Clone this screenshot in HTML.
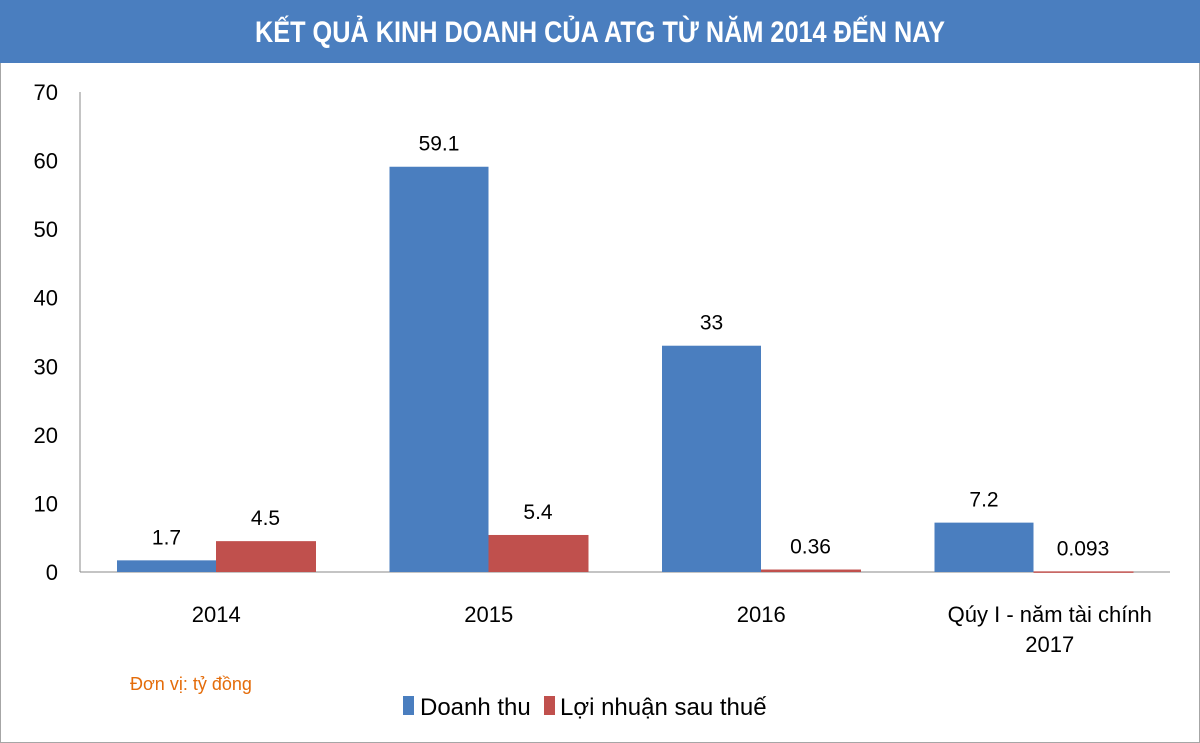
<!DOCTYPE html>
<html><head><meta charset="utf-8"><style>
body{margin:0;background:#fff}
svg{display:block;font-family:"Liberation Sans Narrow","Liberation Sans",sans-serif}
</style></head><body>
<svg id="chart" width="1200" height="743">
<rect x="0.5" y="0.5" width="1199" height="742" fill="#fff" stroke="#a6a6a6"/>
<rect x="0" y="0" width="1200" height="63" fill="#4a7ebf"/>
<text x="600" y="42" text-anchor="middle" fill="#fff" font-size="30" font-weight="bold" textLength="690" lengthAdjust="spacingAndGlyphs">KẾT QUẢ KINH DOANH CỦA ATG TỪ NĂM 2014 ĐẾN NAY</text>
<g id="axes"></g>
<g id="bars"></g>
<text x="130" y="690" fill="#e46c0a" font-size="18">Đơn vị: tỷ đồng</text>
<rect x="403" y="696" width="11" height="19" fill="#4a7ebf"/>
<text x="420" y="715" font-size="24" fill="#000">Doanh thu</text>
<rect x="544" y="696" width="11" height="19" fill="#c0504d"/>
<text x="560" y="715" font-size="24" fill="#000">Lợi nhuận sau thuế</text>
</svg>
<script>
const categories=[["2014"],["2015"],["2016"],["Qúy I - năm tài chính","2017"]];
const revenue=[1.7,59.1,33,7.2];
const profit=[4.5,5.4,0.36,0.093];
const revenueLabels=["1.7","59.1","33","7.2"];
const profitLabels=["4.5","5.4","0.36","0.093"];
const yTicks=[0,10,20,30,40,50,60,70];
const NS="http://www.w3.org/2000/svg";
const x0=80,x1=1170,yBase=572,yTop=92,yMax=70;
const y=v=>yBase-(v/yMax)*(yBase-yTop);
const band=(x1-x0)/categories.length;
const axes=document.getElementById('axes'),bars=document.getElementById('bars');
function mk(tag,attrs,parent,txt){const e=document.createElementNS(NS,tag);for(const k in attrs)e.setAttribute(k,attrs[k]);if(txt!==undefined)e.textContent=txt;parent.appendChild(e);return e;}
let yl=mk('line',{x1:x0,y1:yTop,x2:x0,y2:yBase,stroke:'#888'},axes);


yTicks.forEach(t=>{
  const tx=mk('text',{x:58,y:y(t)+8,'text-anchor':'end','font-size':22,fill:'#000'},axes,String(t));
  
  
});
categories.forEach((c,i)=>{
  const s=x0+i*band;
  const bw=99;
  const bx=s+37;
  const b=mk('rect',{x:bx,y:y(revenue[i]),width:bw,height:yBase-y(revenue[i]),fill:'#4a7ebf'},bars);
  
  
  const r=mk('rect',{x:bx+bw,y:y(profit[i]),width:bw+1,height:Math.max(1.5,yBase-y(profit[i])),fill:'#c0504d'},bars);
  
  
  const l1=mk('text',{x:bx+bw/2,y:y(revenue[i])-16,'text-anchor':'middle','font-size':21,fill:'#000'},bars,revenueLabels[i]);
  
  
  const l2=mk('text',{x:bx+bw*1.5,y:y(profit[i])-16,'text-anchor':'middle','font-size':21,fill:'#000'},bars,profitLabels[i]);
  
  
  c.forEach((line,j)=>{
    const ct=mk('text',{x:s+band/2+(c.length>1?16:0),y:622+j*30,'text-anchor':'middle','font-size':22,fill:'#000'},axes,line);
    
    
  });
});
let xl=mk('line',{x1:x0,y1:yBase,x2:x1,y2:yBase,stroke:'#888'},axes);


</script>
</body></html>
